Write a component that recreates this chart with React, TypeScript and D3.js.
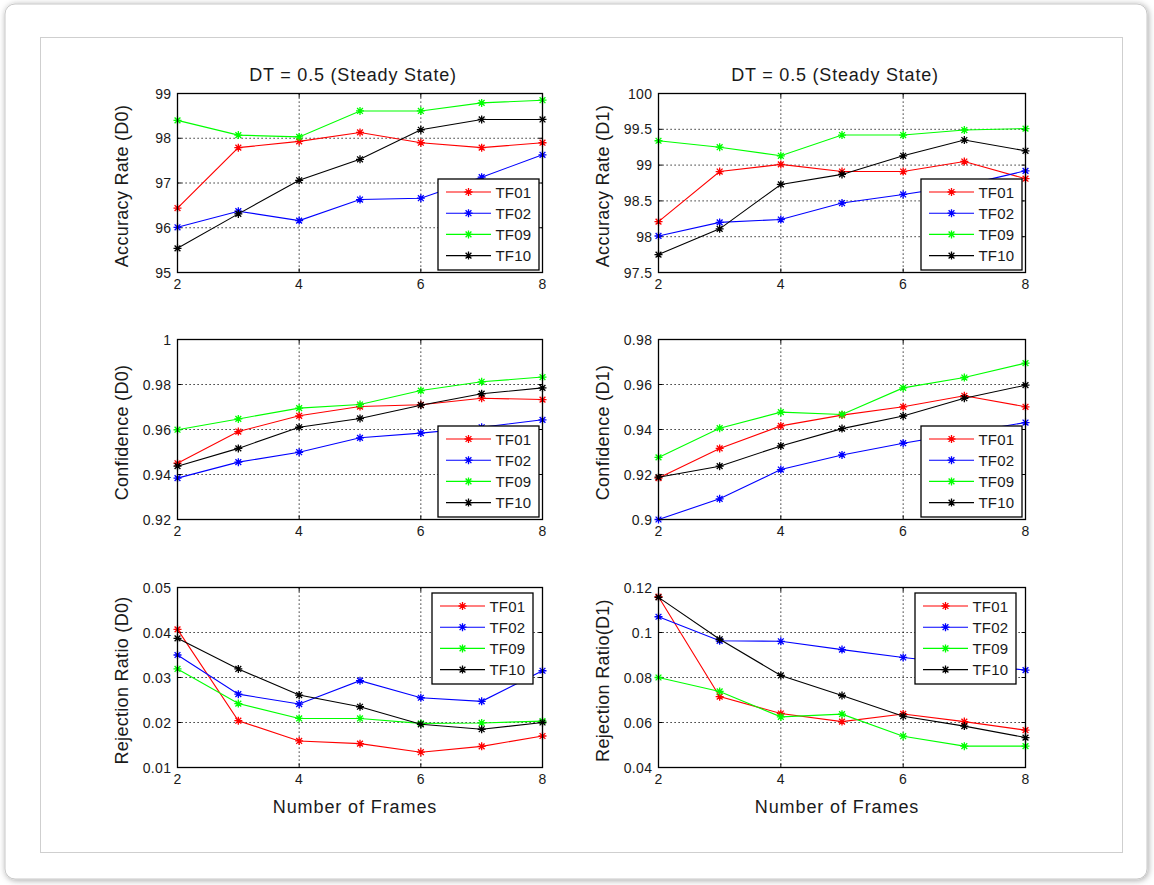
import React from 'react';
import * as d3 from 'd3';

// ---------- DATA ----------
const FRAMES = [2, 3, 4, 5, 6, 7, 8];
const X_TICKS = [2, 4, 6, 8];
const SERIES_NAMES = ['TF01', 'TF02', 'TF09', 'TF10'];
const TITLE = 'DT = 0.5 (Steady State)';
const X_LABEL = 'Number of Frames';

// rows: TF01, TF02, TF09, TF10
const accuracyD0 = [
  [96.44, 97.79, 97.93, 98.13, 97.9, 97.79, 97.9],
  [96.01, 96.37, 96.16, 96.63, 96.66, 97.13, 97.63],
  [98.4, 98.07, 98.03, 98.61, 98.61, 98.79, 98.85],
  [95.54, 96.31, 97.06, 97.53, 98.19, 98.42, 98.42],
];
const accuracyD0Ticks = [95, 96, 97, 98, 99];

const accuracyD1 = [
  [98.21, 98.91, 99.01, 98.91, 98.91, 99.05, 98.81],
  [98.01, 98.2, 98.24, 98.47, 98.59, 98.72, 98.92],
  [99.34, 99.25, 99.13, 99.42, 99.42, 99.49, 99.51],
  [97.75, 98.11, 98.73, 98.87, 99.13, 99.35, 99.2],
];
const accuracyD1Ticks = [97.5, 98, 98.5, 99, 99.5, 100];

const confidenceD0 = [
  [0.945, 0.9591, 0.9661, 0.9702, 0.971, 0.9739, 0.9733],
  [0.9384, 0.9455, 0.9499, 0.9563, 0.9584, 0.961, 0.9643],
  [0.9599, 0.9647, 0.9695, 0.9711, 0.9773, 0.9812, 0.9833],
  [0.9437, 0.9516, 0.961, 0.9649, 0.9708, 0.9759, 0.9785],
];
const confidenceD0Ticks = [0.92, 0.94, 0.96, 0.98, 1];

const confidenceD1 = [
  [0.9184, 0.9316, 0.9416, 0.9464, 0.9501, 0.955, 0.9501],
  [0.9, 0.9092, 0.9222, 0.9287, 0.9339, 0.9385, 0.9431],
  [0.9276, 0.9406, 0.9477, 0.9467, 0.9585, 0.9631, 0.9695],
  [0.9188, 0.9237, 0.9327, 0.9404, 0.946, 0.9539, 0.9597],
];
const confidenceD1Ticks = [0.9, 0.92, 0.94, 0.96, 0.98];

const rejectionD0 = [
  [0.0407, 0.0204, 0.0159, 0.0153, 0.0134, 0.0147, 0.017],
  [0.035, 0.0263, 0.0241, 0.0293, 0.0255, 0.0247, 0.0315],
  [0.0319, 0.0242, 0.0209, 0.0209, 0.0198, 0.0199, 0.0203],
  [0.0387, 0.0319, 0.0261, 0.0235, 0.0196, 0.0185, 0.02],
];
const rejectionD0Ticks = [0.01, 0.02, 0.03, 0.04, 0.05];

const rejectionD1 = [
  [0.1159, 0.0715, 0.064, 0.0604, 0.0638, 0.0604, 0.0566],
  [0.107, 0.0963, 0.0961, 0.0924, 0.0889, 0.086, 0.0833],
  [0.08, 0.0738, 0.0625, 0.0637, 0.0539, 0.0495, 0.0495],
  [0.1156, 0.097, 0.0809, 0.072, 0.0628, 0.0584, 0.0533],
];
const rejectionD1Ticks = [0.04, 0.06, 0.08, 0.1, 0.12];

// ---------- STYLE / LAYOUT ----------
const COLORS = ['#ff0000', '#0000ff', '#00ff00', '#000000'];
const FONT = '"Liberation Sans", Arial, Helvetica, sans-serif';
const TEXT_COLOR = '#1a1a1a';
const COLS = [
  { x0: 177.5, x1: 542.5 },
  { x0: 658.5, x1: 1025.5 },
];
const ROWS = [
  { y0: 93.5, y1: 272.5 },
  { y0: 339.5, y1: 519.5 },
  { y0: 587.5, y1: 767.5 },
];

type Panel = {
  data: number[][];
  ticks: number[];
  yLabel: string;
  col: number;
  row: number;
  title?: string;
  xLabel?: string;
  legend: 'se' | 'ne';
};

const PANELS: Panel[] = [
  { data: accuracyD0, ticks: accuracyD0Ticks, yLabel: 'Accuracy Rate (D0)', col: 0, row: 0, title: TITLE, legend: 'se' },
  { data: accuracyD1, ticks: accuracyD1Ticks, yLabel: 'Accuracy Rate (D1)', col: 1, row: 0, title: TITLE, legend: 'se' },
  { data: confidenceD0, ticks: confidenceD0Ticks, yLabel: 'Confidence (D0)', col: 0, row: 1, legend: 'se' },
  { data: confidenceD1, ticks: confidenceD1Ticks, yLabel: 'Confidence (D1)', col: 1, row: 1, legend: 'se' },
  { data: rejectionD0, ticks: rejectionD0Ticks, yLabel: 'Rejection Ratio (D0)', col: 0, row: 2, xLabel: X_LABEL, legend: 'ne' },
  { data: rejectionD1, ticks: rejectionD1Ticks, yLabel: 'Rejection Ratio(D1)', col: 1, row: 2, xLabel: X_LABEL, legend: 'ne' },
];

const STAR = 'M-4,0H4M0,-4V4M-2.9,-2.9L2.9,2.9M-2.9,2.9L2.9,-2.9';

function PanelView({ p }: { p: Panel }) {
  const { x0, x1 } = COLS[p.col];
  const { y0, y1 } = ROWS[p.row];
  const x = d3.scaleLinear().domain([2, 8]).range([x0, x1]);
  const y = d3
    .scaleLinear()
    .domain([p.ticks[0], p.ticks[p.ticks.length - 1]])
    .range([y1, y0]);
  const line = d3
    .line<number>()
    .x((_, i) => x(FRAMES[i]))
    .y((d) => y(d));
  const cx = (x0 + x1) / 2;
  const cy = (y0 + y1) / 2;
  const fmt = (v: number) => String(+v.toFixed(4));

  const lw = 101;
  const lh = 91;
  const lx = p.legend === 'se' ? x1 - 4 - lw : x1 - 10 - lw;
  const ly = p.legend === 'se' ? y1 - 3 - lh : y0 + 5;

  return (
    <g>
      {/* grid */}
      {X_TICKS.map((t) => (
        <line key={'gx' + t} x1={x(t)} x2={x(t)} y1={y0} y2={y1} stroke="#000" strokeWidth={1} strokeDasharray="1.2 2.8" />
      ))}
      {p.ticks.map((t) => (
        <line key={'gy' + t} x1={x0} x2={x1} y1={y(t)} y2={y(t)} stroke="#000" strokeWidth={1} strokeDasharray="1.2 2.8" />
      ))}
      {/* tick marks */}
      {X_TICKS.map((t) => (
        <g key={'tx' + t}>
          <line x1={x(t)} x2={x(t)} y1={y1} y2={y1 - 4} stroke="#000" />
          <line x1={x(t)} x2={x(t)} y1={y0} y2={y0 + 4} stroke="#000" />
        </g>
      ))}
      {p.ticks.map((t) => (
        <g key={'ty' + t}>
          <line x1={x0} x2={x0 + 4} y1={y(t)} y2={y(t)} stroke="#000" />
          <line x1={x1} x2={x1 - 4} y1={y(t)} y2={y(t)} stroke="#000" />
        </g>
      ))}
      {/* series */}
      {p.data.map((vals, si) => (
        <g key={'s' + si}>
          <path d={line(vals) || ''} fill="none" stroke={COLORS[si]} strokeWidth={1.1} />
          {vals.map((v, i) => (
            <path key={i} d={STAR} transform={`translate(${x(FRAMES[i])},${y(v)})`} stroke={COLORS[si]} strokeWidth={1.3} fill="none" />
          ))}
        </g>
      ))}
      {/* box */}
      <rect x={x0} y={y0} width={x1 - x0} height={y1 - y0} fill="none" stroke="#000" strokeWidth={1.3} />
      {/* tick labels */}
      {X_TICKS.map((t) => (
        <text key={'lx' + t} x={x(t)} y={y1 + 11} textAnchor="middle" dominantBaseline="central" fontSize={14} fill={TEXT_COLOR} letterSpacing={0.4}>
          {fmt(t)}
        </text>
      ))}
      {p.ticks.map((t) => (
        <text key={'ly' + t} x={x0 - 6} y={y(t)} textAnchor="end" dominantBaseline="central" fontSize={14} fill={TEXT_COLOR} letterSpacing={0.4}>
          {fmt(t)}
        </text>
      ))}
      {/* y label */}
      <text
        transform={`translate(${x0 - 56},${cy + 3}) rotate(-90)`}
        textAnchor="middle"
        dominantBaseline="central"
        fontSize={18}
        fill={TEXT_COLOR}
        letterSpacing={0.3}
      >
        {p.yLabel}
      </text>
      {p.title && (
        <text x={cx - 7} y={y0 - 19} textAnchor="middle" dominantBaseline="central" fontSize={18} fill={TEXT_COLOR} letterSpacing={0.8}>
          {p.title}
        </text>
      )}
      {p.xLabel && (
        <text x={cx - 5} y={y1 + 39} textAnchor="middle" dominantBaseline="central" fontSize={18} fill={TEXT_COLOR} letterSpacing={0.9}>
          {p.xLabel}
        </text>
      )}
      {/* legend */}
      <g transform={`translate(${lx},${ly})`}>
        <rect x={0.5} y={0.5} width={lw} height={lh} fill="#fff" stroke="#000" strokeWidth={1.3} />
        {SERIES_NAMES.map((name, si) => {
          const yy = 13.5 + si * 21.2;
          return (
            <g key={name}>
              <line x1={8.5} x2={53.5} y1={yy} y2={yy} stroke={COLORS[si]} strokeWidth={1.1} />
              <path d={STAR} transform={`translate(31,${yy})`} stroke={COLORS[si]} strokeWidth={1.3} fill="none" />
              <text x={58} y={yy} dominantBaseline="central" fontSize={15} fill={TEXT_COLOR} letterSpacing={0.2}>
                {name}
              </text>
            </g>
          );
        })}
      </g>
    </g>
  );
}

export default function App() {
  return (
    <svg
      width={1154}
      height={885}
      style={{ position: 'absolute', left: 0, top: 0, fontFamily: FONT, background: '#fff' }}
    >
      <defs>
        <filter id="shadow" x="-5%" y="-5%" width="110%" height="110%">
          <feDropShadow dx="1" dy="1" stdDeviation="3" floodColor="#000" floodOpacity="0.35" />
        </filter>
      </defs>
      <rect x={0} y={0} width={1154} height={885} fill="#fff" />
      <rect x={5} y={4} width={1142} height={875} rx={10} ry={10} fill="#fff" stroke="#c8c8c8" filter="url(#shadow)" />
      <rect x={40.5} y={37.5} width={1082} height={815} fill="#fff" stroke="#cfcfcf" strokeWidth={1} />
      {PANELS.map((p, i) => (
        <PanelView key={i} p={p} />
      ))}
    </svg>
  );
}
